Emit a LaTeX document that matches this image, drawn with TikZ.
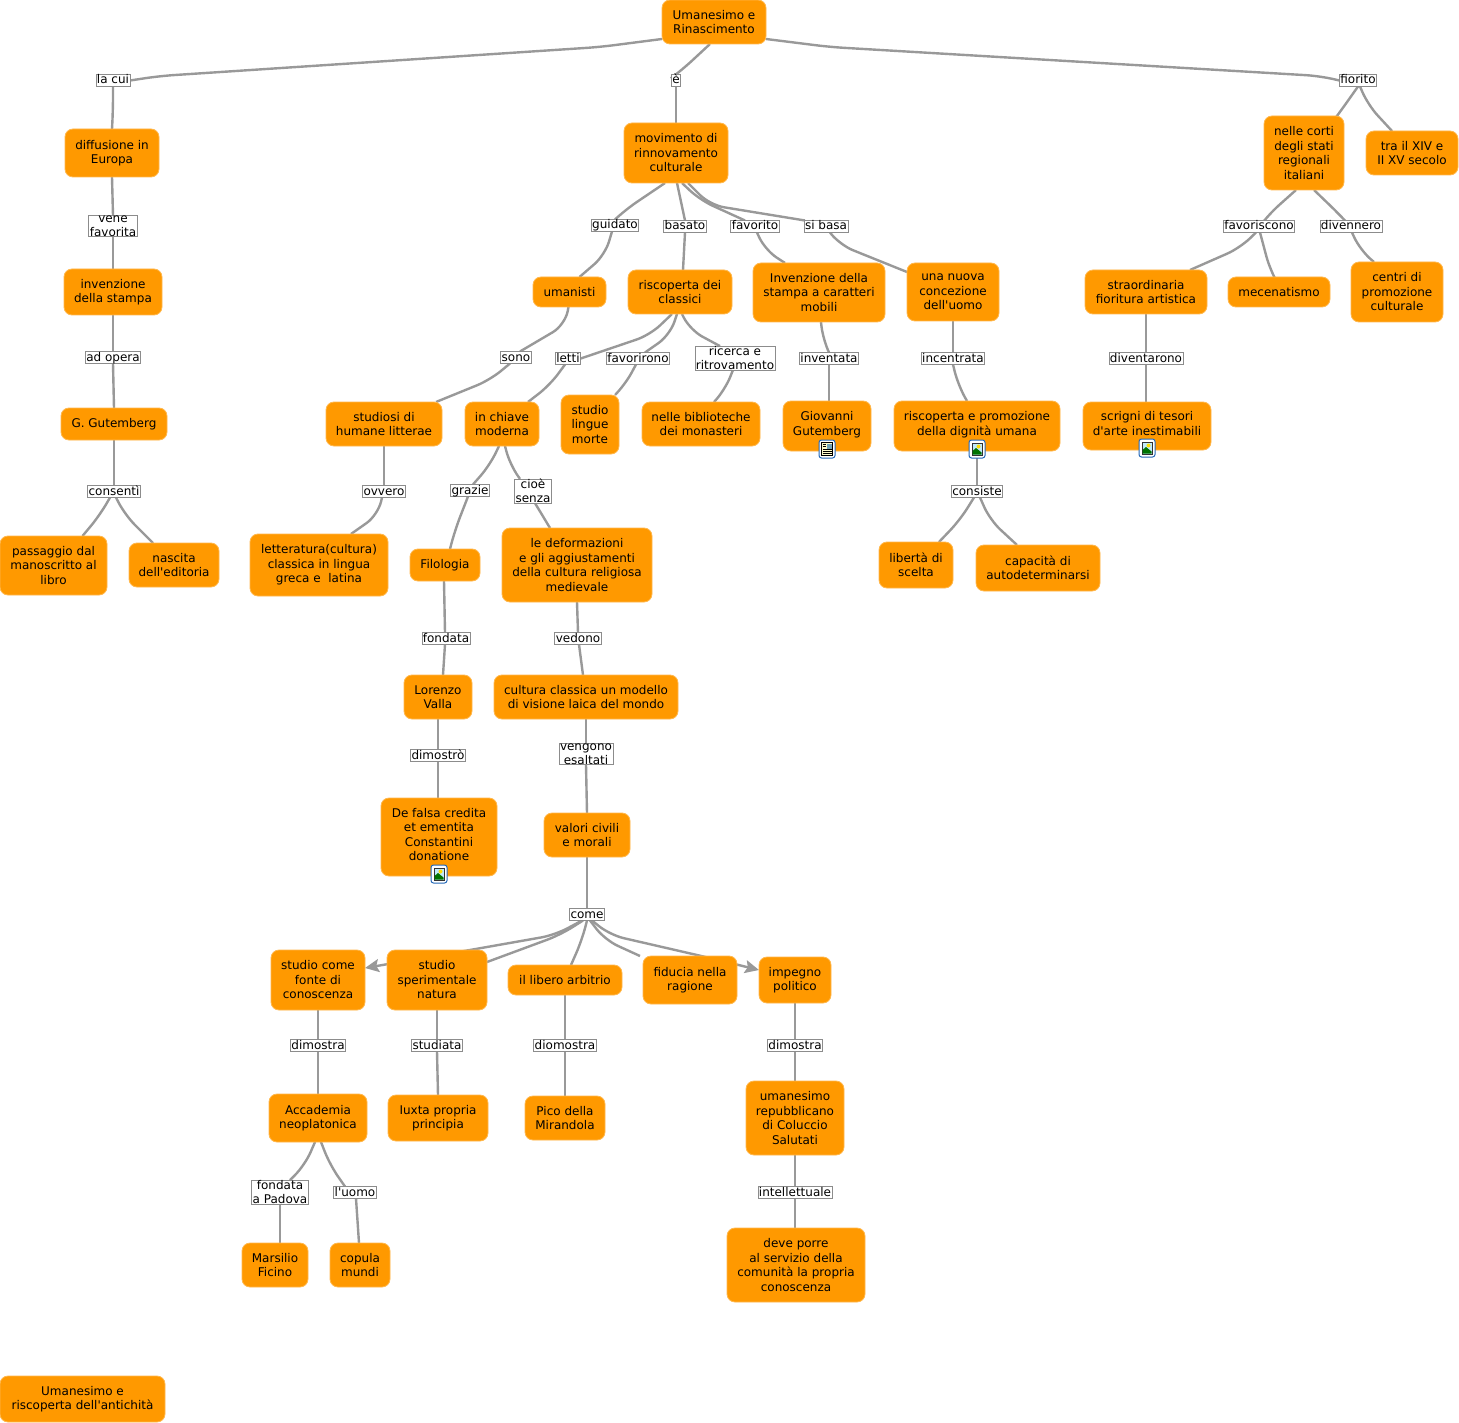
\documentclass[tikz,border=0pt]{standalone}
\usepackage{fontspec}
\setmainfont{DejaVu Sans}[Ligatures=TeXOff]
\usetikzlibrary{backgrounds,arrows.meta}
\definecolor{boxor}{HTML}{FF9900}
\definecolor{boxedge}{HTML}{FFB84D}
\definecolor{linkgray}{HTML}{999999}
\definecolor{labedge}{HTML}{8C8C8C}
\definecolor{iconblue}{HTML}{2468B8}
\tikzset{
  box/.style={draw=boxedge,line width=0.8pt,fill=boxor,rounded corners=8pt,align=center,inner sep=0pt,outer sep=0pt,text=black,font=\fontsize{12}{14.5}\selectfont},
  labone/.style={draw=labedge,line width=0.7pt,fill=white,inner xsep=1pt,inner ysep=0pt,text height=9.5pt,text depth=2.5pt,outer sep=0pt,text=black,font=\fontsize{12}{14.5}\selectfont},
  labtwo/.style={draw=labedge,line width=0.7pt,fill=white,inner xsep=1pt,inner ysep=0pt,align=center,outer sep=0pt,text=black,font=\fontsize{12}{14.5}\selectfont},
  link/.style={draw=linkgray,line width=2.4pt,rounded corners=14pt},
  linkend/.style={link,-{Stealth[length=14pt,width=13pt,inset=2.5pt]}},
}
\newcommand\bx[6]{%
  \pgfmathsetmacro\cxx{(#2+#4)/2}\pgfmathsetmacro\cyy{(#3+#5)/2}%
  \pgfmathsetmacro\wdd{#4-#2}\pgfmathsetmacro\htt{#5-#3}%
  \node[box,minimum width=\wdd pt,minimum height=\htt pt] (#1) at (\cxx,\cyy) {#6};}
\newcommand\bxi[6]{%
  \pgfmathsetmacro\cxx{(#2+#4)/2}\pgfmathsetmacro\cyy{(#3+#5)/2}%
  \pgfmathsetmacro\wdd{#4-#2}\pgfmathsetmacro\htt{#5-#3}%
  \node[box,minimum width=\wdd pt,minimum height=\htt pt,text depth=5.5pt] (#1) at (\cxx,\cyy) {#6};}
\newcommand\lb[4]{\node[labone] (#1) at (#2,#3+0.5) {#4};}
\newcommand\lbb[4]{\node[labtwo] (#1) at (#2,#3) {#4};}
\newcommand\iconframe[2]{%
  \fill[white,rounded corners=2pt] (#1-8,#2-9) rectangle (#1+8,#2+9);
  \draw[iconblue,line width=1pt,rounded corners=2.5pt] (#1-8,#2-9) rectangle (#1+8,#2+9);}
\newcommand\imgicon[2]{%
  \iconframe{#1}{#2}
  \fill[black!80] (#1-5.5,#2-6.5) rectangle (#1+5.5,#2+6.5);
  \fill[cyan!25] (#1-4.5,#2-5.5) rectangle (#1+4.5,#2+5.5);
  \fill[yellow!80!orange] (#1+1.5,#2-2.5) circle (2);
  \fill[green!45!black] (#1-4.5,#2+5.5) -- (#1-4.5,#2+2) -- (#1-1,#2-1) -- (#1+4.5,#2+3.5) -- (#1+4.5,#2+5.5) -- cycle;}
\newcommand\docicon[2]{%
  \iconframe{#1}{#2}
  \fill[yellow!20] (#1-5.5,#2-6.5) rectangle (#1+5.5,#2+6.5);
  \draw[black,line width=0.5pt] (#1-5.5,#2-6.5) rectangle (#1+5.5,#2+6.5);
  \fill[cyan!40!gray] (#1,#2-5.5) rectangle (#1+4.5,#2-0.5);
  \foreach \yy in {-4.5,-2.5}{\draw[black,line width=0.45pt] (#1-4.5,#2+\yy) -- (#1-0.7,#2+\yy);}
  \foreach \yy in {0.7,2.5,4.3}{\draw[black,line width=0.45pt] (#1-4.5,#2+\yy) -- (#1+4.5,#2+\yy);}}
\begin{document}
\begin{tikzpicture}[x=1pt,y=-1pt]
\useasboundingbox (0,0) rectangle (1459,1423);
\begin{scope}[on background layer]
\fill[white] (0,0) rectangle (1459,1423);
\end{scope}
% boxes
\bx{root}{662}{0}{766}{44}{Umanesimo e\\Rinascimento}
\bx{diff}{65}{129}{159}{177}{diffusione in\\Europa}
\bx{inv}{64}{269}{162}{315}{invenzione\\della stampa}
\bx{gut}{61}{408}{167}{440}{G. Gutemberg}
\bx{pass}{0}{536}{107}{595}{passaggio dal\\manoscritto al\\libro}
\bx{nasc}{129}{543}{219}{587}{nascita\\dell'editoria}
\bx{mov}{624}{123}{728}{183}{movimento di\\rinnovamento\\culturale}
\bx{uman}{533}{277}{606}{307}{umanisti}
\bx{risc}{628}{270}{732}{314}{riscoperta dei\\classici}
\bx{invst}{753}{263}{885}{322}{Invenzione della\\stampa a caratteri\\mobili}
\bx{nuova}{907}{263}{999}{321}{una nuova\\concezione\\dell'uomo}
\bx{stud}{326}{402}{442}{446}{studiosi di\\humane litterae}
\bx{chiave}{465}{402}{539}{446}{in chiave\\moderna}
\bx{ling}{561}{395}{619}{454}{studio\\lingue\\morte}
\bx{bibl}{642}{402}{760}{446}{nelle biblioteche\\dei monasteri}
\bxi{giov}{783}{401}{871}{451}{Giovanni\\Gutemberg}
\bxi{digni}{894}{401}{1060}{451}{riscoperta e promozione\\della dignità umana}
\bxi{scri}{1083}{402}{1211}{450}{scrigni di tesori\\d'arte inestimabili}
\bx{lett}{250}{534}{388}{596}{letteratura(cultura)\\classica in lingua\\greca e\ \ latina}
\bx{filo}{410}{549}{480}{581}{Filologia}
\bx{defo}{502}{528}{652}{602}{le deformazioni\\e gli aggiustamenti\\della cultura religiosa\\medievale}
\bx{libe}{879}{542}{953}{588}{libertà di\\scelta}
\bx{capa}{976}{545}{1100}{591}{capacità di\\autodeterminarsi}
\bx{lore}{404}{675}{472}{719}{Lorenzo\\Valla}
\bx{cult}{494}{675}{678}{719}{cultura classica un modello\\di visione laica del mondo}
\bxi{fals}{381}{798}{497}{876}{De falsa credita\\et ementita\\Constantini\\donatione}
\bx{valo}{544}{813}{630}{857}{valori civili\\e morali}
\bx{fonte}{271}{950}{365}{1010}{studio come\\fonte di\\conoscenza}
\bx{sper}{387}{950}{487}{1010}{studio\\sperimentale\\natura}
\bx{arbi}{508}{965}{622}{995}{il libero arbitrio}
\bx{fidu}{643}{956}{737}{1004}{fiducia nella\\ragione}
\bx{impe}{759}{957}{831}{1003}{impegno\\politico}
\bx{acca}{269}{1094}{367}{1142}{Accademia\\neoplatonica}
\bx{iuxt}{388}{1095}{488}{1141}{Iuxta propria\\principia}
\bx{pico}{525}{1096}{605}{1140}{Pico della\\Mirandola}
\bx{repu}{746}{1081}{844}{1155}{umanesimo\\repubblicano\\di Coluccio\\Salutati}
\bx{devo}{727}{1228}{865}{1302}{deve porre\\al servizio della\\comunità la propria\\conoscenza}
\bx{mars}{242}{1243}{308}{1287}{Marsilio\\Ficino}
\bx{copu}{330}{1243}{390}{1287}{copula\\mundi}
\bx{anti}{0}{1376}{165}{1422}{Umanesimo e\\riscoperta dell'antichità}
\bx{cort}{1264}{116}{1344}{190}{nelle corti\\degli stati\\regionali\\italiani}
\bx{seco}{1366}{131}{1458}{175}{tra il XIV e\\II XV secolo}
\bx{fior}{1085}{270}{1207}{314}{straordinaria\\fioritura artistica}
\bx{mece}{1228}{277}{1330}{307}{mecenatismo}
\bx{cent}{1351}{262}{1443}{322}{centri di\\promozione\\culturale}
% labels
\lb{lcui}{113}{80}{la cui}
\lb{le}{676}{80}{è}
\lb{lfior}{1358}{80}{fiorito}
\lbb{lvene}{113}{226}{vene\\favorita}
\lb{lopera}{113}{357}{ad opera}
\lb{lcons}{114}{491}{consentì}
\lb{lguid}{615}{225}{guidato}
\lb{lbas}{685}{226}{basato}
\lb{lfav}{755}{226}{favorito}
\lb{lsib}{826}{226}{si basa}
\lb{lsono}{516}{357}{sono}
\lb{llet}{568}{358}{letti}
\lb{lfvr}{638}{358}{favorirono}
\lbb{lric}{735}{358}{ricerca e\\ritrovamento}
\lb{linv}{829}{358}{inventata}
\lb{linc}{953}{358}{incentrata}
\lb{lovv}{384}{491}{ovvero}
\lb{lgra}{470}{490}{grazie}
\lbb{lcio}{533}{491}{cioè\\senza}
\lb{lcsi}{977}{491}{consiste}
\lb{lfon}{446}{638}{fondata}
\lb{lved}{578}{638}{vedono}
\lb{ldmo}{438}{755}{dimostrò}
\lbb{lven}{586}{754}{vengono\\esaltati}
\lb{lcome}{587}{914}{come}
\lb{ldma}{318}{1045}{dimostra}
\lb{lstu}{437}{1045}{studiata}
\lb{ldio}{565}{1045}{diomostra}
\lb{ldmb}{795}{1045}{dimostra}
\lb{lint}{795}{1192}{intellettuale}
\lbb{lpad}{280}{1192}{fondata\\a Padova}
\lb{luom}{355}{1192}{l'uomo}
\lb{lfvs}{1259}{226}{favoriscono}
\lb{ldiv}{1351}{226}{divennero}
\lb{ldvt}{1146}{358}{diventarono}
% connectors
\begin{scope}[on background layer]
\draw[link] ([yshift=-17]root.west) -- (600,47) -- (160,76) -- (lcui.east);
\draw[link] (lcui.south) -- ([yshift=-24]lcui.south) -- (diff.north);
\draw[link] ([xshift=-4]root.south) -- (682,70) -- (le.north);
\draw[link] (le.south) -- (mov.north);
\draw[link] ([yshift=-17]root.east) -- (830,47) -- (1320,76) -- (lfior.west);
\draw[link] (lfior.south) -- (1340,112) -- ([xshift=33]cort.north);
\draw[link] ([xshift=2]lfior.south) -- (1368,105) -- ([xshift=-20]seco.north);
\draw[link] ([xshift=-8]cort.south) -- (1268,215) -- ([xshift=5]lfvs.north);
\draw[link] ([xshift=-3]lfvs.south) -- (1240,248) -- ([xshift=44]fior.north);
\draw[link] ([xshift=1]lfvs.south) -- (1270,270) -- ([xshift=-5]mece.north);
\draw[link] ([xshift=10]cort.south) -- (1340,215) -- ([xshift=-6]ldiv.north);
\draw[link] ([xshift=1]ldiv.south) -- (1360,250) -- ([xshift=-23]cent.north);
\draw[link] (fior.south) -- (ldvt.north);
\draw[link] (ldvt.south) -- ([xshift=-1]scri.north);
\draw[link] (diff.south) -- (lvene.north);
\draw[link] (lvene.south) -- (inv.north);
\draw[link] (inv.south) -- (lopera.north);
\draw[link] (lopera.south) -- (gut.north);
\draw[link] (gut.south) -- (lcons.north);
\draw[link] ([xshift=-4]lcons.south) -- (100,515) -- ([xshift=29]pass.north);
\draw[link] ([xshift=2]lcons.south) -- (125,515) -- ([xshift=-21]nasc.north);
\draw[link] ([xshift=-11]mov.south) -- (625,210) -- (lguid.north);
\draw[link] ([xshift=-3]lguid.south) -- (605,255) -- ([xshift=10]uman.north);
\draw[link] ([xshift=1]mov.south) -- (lbas.north);
\draw[link] (lbas.south) -- ([xshift=3]risc.north);
\draw[link] ([xshift=6]mov.south) -- (700,200) -- ([xshift=-10]lfav.north);
\draw[link] ([xshift=2]lfav.south) -- (765,250) -- ([xshift=-34]invst.north);
\draw[link] ([xshift=12]mov.south) -- (710,205) -- ([xshift=-21]lsib.north);
\draw[link] ([xshift=4]lsib.south) -- (840,245) -- ([yshift=20]nuova.west);
\draw[link] ([xshift=-1]uman.south) -- (565,325) -- ([xshift=4]lsono.north);
\draw[link] ([xshift=-6]lsono.south) -- (490,380) -- ([xshift=52]stud.north);
\draw[link] ([xshift=-8]risc.south) -- (650,335) -- (llet.east);
\draw[link] ([xshift=-3]llet.south) -- (550,385) -- ([xshift=26]chiave.north);
\draw[link] ([xshift=-3]risc.south) -- (670,335) -- ([xshift=7]lfvr.north);
\draw[link] ([xshift=-2]lfvr.south) -- (625,385) -- ([xshift=25]ling.north);
\draw[link] ([xshift=2]risc.south) -- (690,330) -- ([xshift=-15]lric.north);
\draw[link] ([xshift=-2]lric.south) -- (725,390) -- ([xshift=13]bibl.north);
\draw[link] ([xshift=2]invst.south) -- (823,340) -- (linv.north);
\draw[link] (linv.south) -- ([xshift=2]giov.north);
\draw[link] (nuova.south) -- (linc.north);
\draw[link] (linc.south) -- (958,385) -- ([xshift=-10]digni.north);
\draw[link] (digni.south) -- (lcsi.north);
\draw[link] ([xshift=-3]lcsi.south) -- (960,520) -- ([xshift=23]libe.north);
\draw[link] ([xshift=3]lcsi.south) -- (990,520) -- ([xshift=-21]capa.north);
\draw[link] (stud.south) -- (lovv.north);
\draw[link] ([xshift=-2]lovv.south) -- (378,515) -- ([xshift=32]lett.north);
\draw[link] ([xshift=-3]chiave.south) -- (490,465) -- ([xshift=3]lgra.north);
\draw[link] ([xshift=-2]lgra.south) -- (455,530) -- ([xshift=5]filo.north);
\draw[link] ([xshift=3]chiave.south) -- (510,465) -- ([xshift=-13]lcio.north);
\draw[link] ([xshift=2]lcio.south) -- ([xshift=-27]defo.north);
\draw[link] ([xshift=-1]filo.south) -- ([xshift=-1]lfon.north);
\draw[link] ([xshift=-1]lfon.south) -- ([xshift=5]lore.north);
\draw[link] (defo.south) -- (lved.north);
\draw[link] ([xshift=1]lved.south) -- ([xshift=-3]cult.north);
\draw[link] (lore.south) -- (ldmo.north);
\draw[link] (ldmo.south) -- ([xshift=-1]fals.north);
\draw[link] (cult.south) -- (lven.north);
\draw[link] (lven.south) -- (valo.north);
\draw[link] (valo.south) -- (lcome.north);
\draw[linkend] ([xshift=-5]lcome.south) -- (555,935) -- (470,950) -- ([yshift=12]fonte.east);
\draw[link] ([xshift=-4]lcome.south) -- (560,935) -- ([yshift=18]sper.east);
\draw[link] (lcome.south) -- (582,940) -- ([xshift=6]arbi.north);
\draw[link] ([xshift=3]lcome.south) -- (605,940) -- ([xshift=-50]fidu.north);
\draw[linkend] ([xshift=5]lcome.south) -- (610,935) -- (710,958) -- ([yshift=10]impe.west);
\draw[link] (fonte.south) -- (ldma.north);
\draw[link] (ldma.south) -- (acca.north);
\draw[link] (sper.south) -- (lstu.north);
\draw[link] (lstu.south) -- (iuxt.north);
\draw[link] (arbi.south) -- (ldio.north);
\draw[link] (ldio.south) -- (pico.north);
\draw[link] (impe.south) -- (ldmb.north);
\draw[link] (ldmb.south) -- (repu.north);
\draw[link] (repu.south) -- (lint.north);
\draw[link] (lint.south) -- ([xshift=-1]devo.north);
\draw[link] ([xshift=-3]acca.south) -- (305,1165) -- ([xshift=10]lpad.north);
\draw[link] (lpad.south) -- ([xshift=5]mars.north);
\draw[link] ([xshift=3]acca.south) -- (330,1165) -- ([xshift=-10]luom.north);
\draw[link] ([xshift=1]luom.south) -- ([xshift=-1]copu.north);
\end{scope}
% icons
\docicon{827}{449}
\imgicon{977}{449}
\imgicon{1147}{448}
\imgicon{439}{874}
\end{tikzpicture}
\end{document}
